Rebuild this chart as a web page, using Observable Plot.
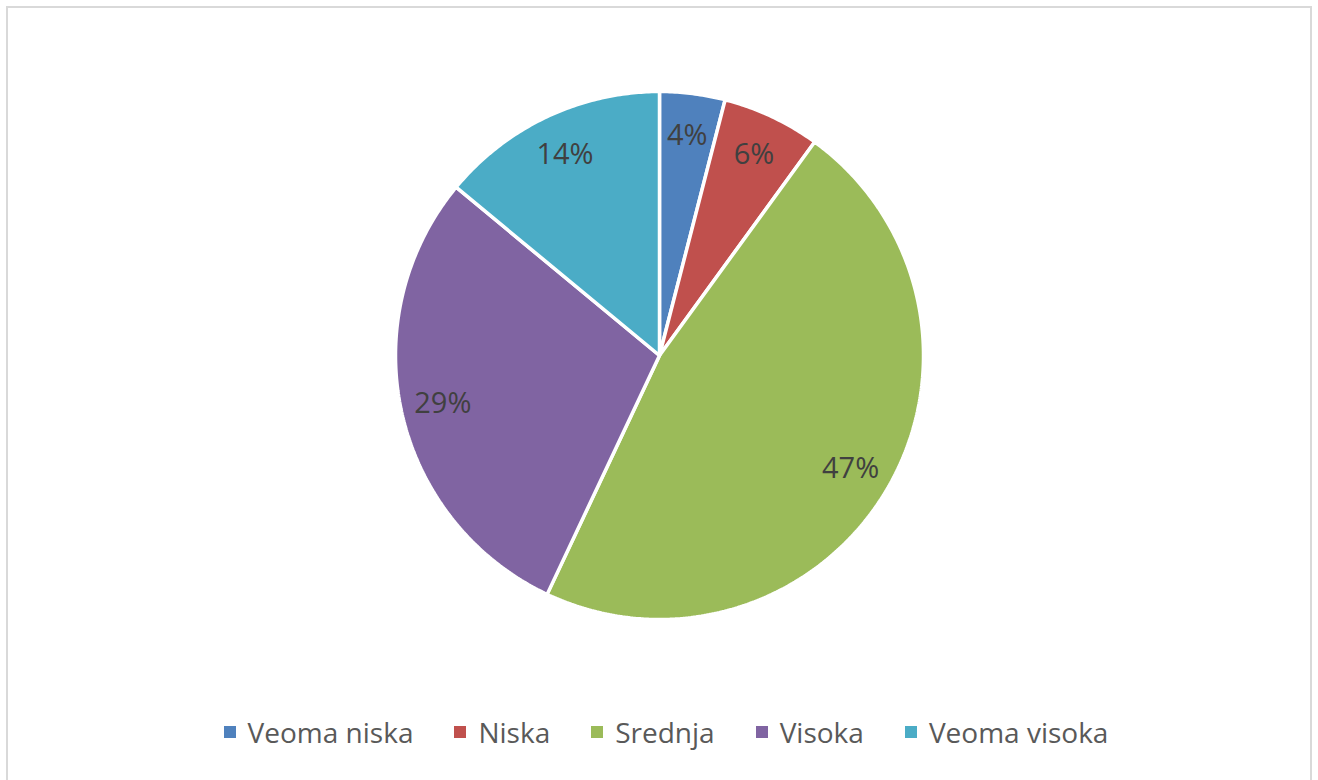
<!DOCTYPE html>
<html>
<head>
<meta charset="utf-8">
<script src="https://cdn.jsdelivr.net/npm/d3@7"></script>
<script src="https://cdn.jsdelivr.net/npm/@observablehq/plot@0.6"></script>
<style>
  html, body { margin: 0; padding: 0; background: #fff; }
  #wrap { position: relative; width: 1318px; height: 780px; overflow: hidden; }
  #frame { position: absolute; left: 6px; top: 6px; width: 1306px; height: 800px; border: 2px solid #d9d9d9; box-sizing: border-box; }
  #chart { position: absolute; left: 0; top: 0; }
  #legend { position: absolute; left: 7px; top: 713px; width: 1318px; display: flex; justify-content: center; align-items: center; gap: 41px; font-family: "Open Sans", sans-serif; font-size: 28px; color: #595959; }
  .item { display: flex; align-items: center; }
  .sw { width: 12px; height: 12px; margin-right: 12px; }
</style>
</head>
<body>
<div id="wrap">
  <div id="frame"></div>
  <div id="chart"></div>
  <div id="legend"></div>
</div>
<script>
const categories = ["Veoma niska", "Niska", "Srednja", "Visoka", "Veoma visoka"];
const values = [4, 6, 47, 29, 14];
const labels = ["4%", "6%", "47%", "29%", "14%"];
const colors = ["#4F81BD", "#C0504D", "#9BBB59", "#8064A2", "#4BACC6"];

const W = 1318, H = 710, R = 264, LR = 222;
const pie = d3.pie().sort(null).value(d => d.value)(categories.map((c, i) => ({cat: c, value: values[i], label: labels[i]})));

// polygon points of each slice (angle measured clockwise from 12 o'clock)
const pts = [];
for (const s of pie) {
  const n = Math.max(2, Math.ceil((s.endAngle - s.startAngle) / 0.01));
  pts.push({cat: s.data.cat, x: 0, y: 0});
  for (let k = 0; k <= n; k++) {
    const a = s.startAngle + (s.endAngle - s.startAngle) * k / n;
    pts.push({cat: s.data.cat, x: R * Math.sin(a), y: R * Math.cos(a)});
  }
  pts.push({cat: s.data.cat, x: 0, y: 0});
}
const labs = pie.map(s => {
  const a = (s.startAngle + s.endAngle) / 2;
  return {label: s.data.label, x: LR * Math.sin(a), y: LR * Math.cos(a)};
});

const plot = Plot.plot({
  width: W, height: H,
  margin: 0,
  x: {domain: [-659, 659], axis: null},
  y: {domain: [-355, 355], axis: null},
  color: {domain: categories, range: colors},
  style: {background: "transparent"},
  marks: [
    Plot.line(pts, {x: "x", y: "y", z: "cat", fill: "cat", stroke: "#fff", strokeWidth: 3.5, strokeLinejoin: "miter", curve: "linear"}),
    Plot.text(labs, {x: "x", y: "y", text: "label", fontSize: 29, fill: "#404040", fontFamily: "Open Sans, sans-serif"})
  ]
});
document.getElementById("chart").appendChild(plot);

const lg = document.getElementById("legend");
categories.forEach((c, i) => {
  const it = document.createElement("div");
  it.className = "item";
  const sw = document.createElement("span");
  sw.className = "sw";
  sw.style.background = colors[i];
  const t = document.createElement("span");
  t.textContent = c;
  it.appendChild(sw); it.appendChild(t);
  lg.appendChild(it);
});
</script>
</body>
</html>
